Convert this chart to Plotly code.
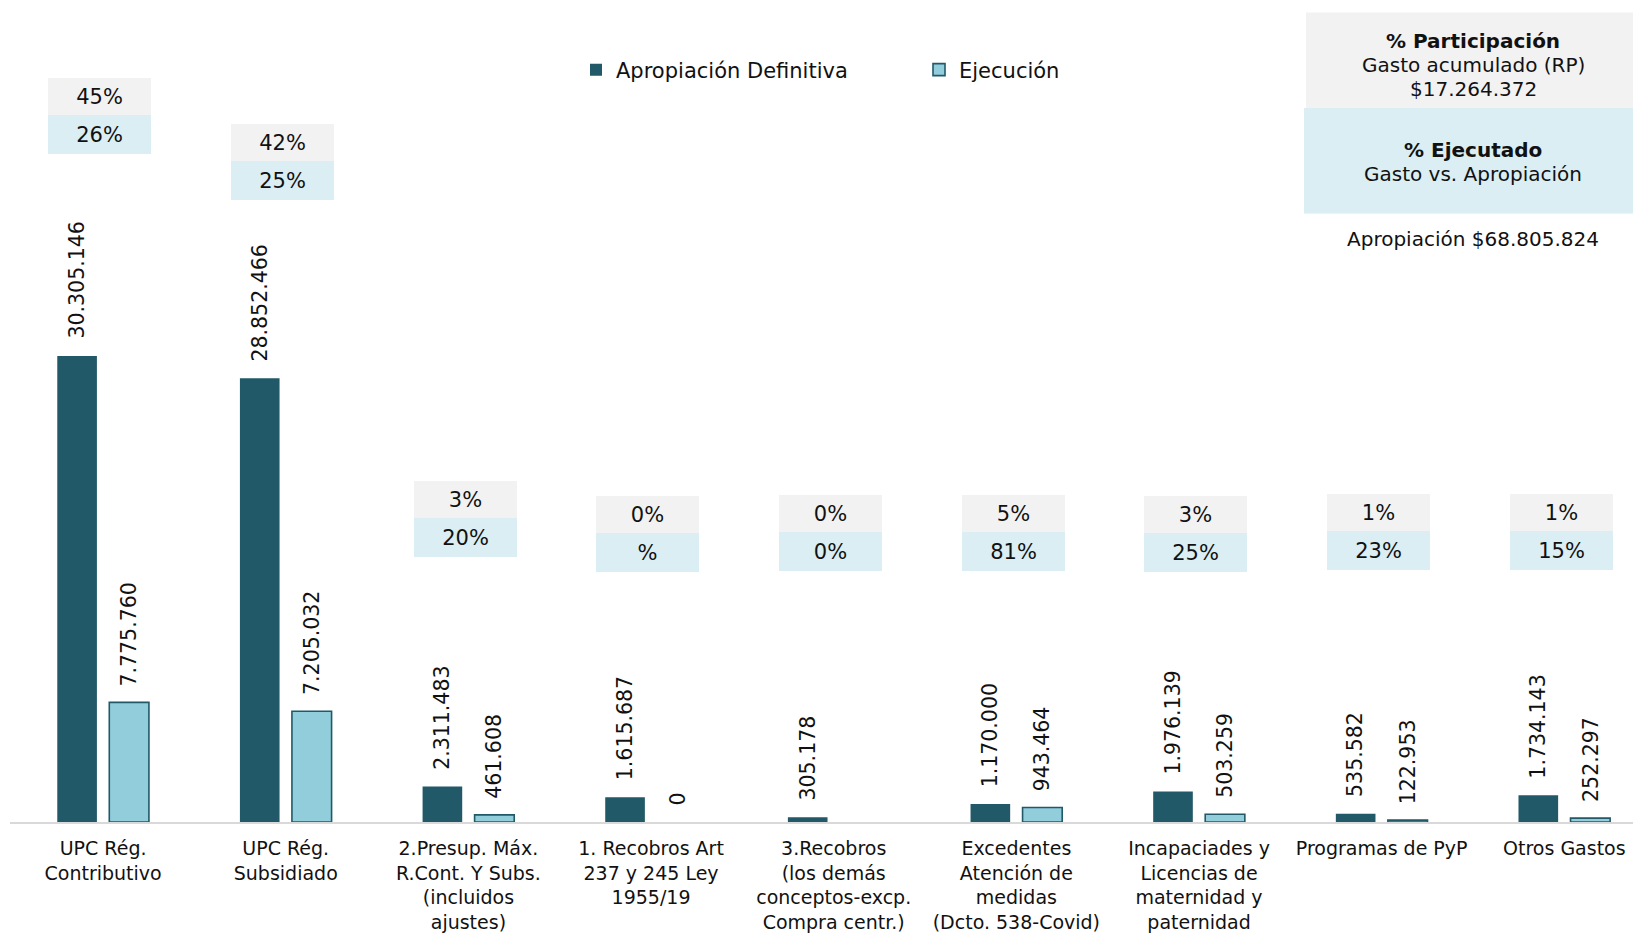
import plotly.graph_objects as go

categorias = [
    "UPC Rég.<br>Contributivo",
    "UPC Rég.<br>Subsidiado",
    "2.Presup. Máx.<br>R.Cont. Y Subs.<br>(incluidos<br>ajustes)",
    "1. Recobros Art<br>237 y 245 Ley<br>1955/19",
    "3.Recobros<br>(los demás<br>conceptos-excp.<br>Compra centr.)",
    "Excedentes<br>Atención de<br>medidas<br>(Dcto. 538-Covid)",
    "Incapaciades y<br>Licencias de<br>maternidad y<br>paternidad",
    "Programas de PyP",
    "Otros Gastos",
]
apropiacion = [30305146, 28852466, 2311483, 1615687, 305178, 1170000, 1976139, 535582, 1734143]
ejecucion = [7775760, 7205032, 461608, 0, None, 943464, 503259, 122953, 252297]
pct_participacion = ["45%", "42%", "3%", "0%", "0%", "5%", "3%", "1%", "1%"]
pct_ejecutado = ["26%", "25%", "20%", "%", "0%", "81%", "25%", "23%", "15%"]
nivel_cajas = [46.0e6, 42.95e6, 19.8e6, 18.8e6, 18.85e6, 18.85e6, 18.8e6, 18.9e6, 18.9e6]
total_gasto = "$17.264.372"
total_apropiacion = "$68.805.824"

DARK = "#215968"
LIGHT = "#92CDDC"
GRAY_BOX = "#F2F2F2"
BLUE_BOX = "#DAEEF3"
FONT = "DejaVu Sans"
TXT = "#111111"

def fmt(v):
    return f"{v:,}".replace(",", ".")

xs = list(range(len(categorias)))
BW = 0.217
OFF_D = -0.1424
OFF_L = 0.1424

fig = go.Figure()
fig.add_trace(go.Bar(
    x=xs, y=apropiacion, name="Apropiación Definitiva",
    width=BW, offset=OFF_D - BW / 2,
    marker=dict(color=DARK, line=dict(width=0)),
))
fig.add_trace(go.Bar(
    x=xs, y=ejecucion, name="Ejecución",
    width=BW, offset=OFF_L - BW / 2,
    marker=dict(color=LIGHT, line=dict(color=DARK,
                width=[1.6 if v else 0 for v in ejecucion])),
))

ann = []
for i in xs:
    ann.append(dict(x=i + OFF_D, y=apropiacion[i], xref="x", yref="y",
                    text=fmt(apropiacion[i]), textangle=-90, showarrow=False,
                    xanchor="center", yanchor="bottom", yshift=15,
                    font=dict(family=FONT, size=20.5, color=TXT)))
    if ejecucion[i] is not None:
        ann.append(dict(x=i + OFF_L, y=ejecucion[i], xref="x", yref="y",
                        text=fmt(ejecucion[i]), textangle=-90, showarrow=False,
                        xanchor="center", yanchor="bottom", yshift=14,
                        font=dict(family=FONT, size=20.5, color=TXT)))
    ann.append(dict(x=i - 0.017, y=nivel_cajas[i], xref="x", yref="y",
                    text=pct_participacion[i], showarrow=False,
                    xanchor="center", yanchor="bottom", width=103, height=37,
                    bgcolor=GRAY_BOX, borderpad=0, borderwidth=0,
                    font=dict(family=FONT, size=21, color=TXT)))
    ann.append(dict(x=i - 0.017, y=nivel_cajas[i], xref="x", yref="y",
                    text=pct_ejecutado[i], showarrow=False,
                    xanchor="center", yanchor="top", width=103, height=39,
                    bgcolor=BLUE_BOX, borderpad=0, borderwidth=0,
                    font=dict(family=FONT, size=21, color=TXT)))

# top-right explanatory box
def py(Y):
    return (822 - Y) / 822

def px(X):
    return (X - 10) / 1623

shapes = [
    dict(type="rect", xref="paper", yref="paper", x0=px(1306), x1=px(1640),
         y0=py(108), y1=py(12.5), fillcolor=GRAY_BOX, line=dict(width=0), layer="below"),
    dict(type="rect", xref="paper", yref="paper", x0=px(1304), x1=px(1640),
         y0=py(213.5), y1=py(108), fillcolor=BLUE_BOX, line=dict(width=0), layer="below"),
]
box_lines = [
    ("<b>% Participación</b>", 40.6),
    ("Gasto acumulado (RP)", 64.6),
    (total_gasto, 88.5),
    ("<b>% Ejecutado</b>", 150),
    ("Gasto vs. Apropiación", 174),
    ("Apropiación " + total_apropiacion, 238.5),
]
for t, Y in box_lines:
    ann.append(dict(x=px(1473), y=py(Y), xref="paper", yref="paper", text=t,
                    showarrow=False, xanchor="center", yanchor="middle",
                    font=dict(family=FONT, size=20, color=TXT)))

fig.update_layout(
    width=1633, height=933,
    margin=dict(l=10, r=0, t=0, b=111, autoexpand=False),
    paper_bgcolor="white", plot_bgcolor="white",
    barmode="overlay",
    showlegend=True,
    legend=dict(orientation="h", x=px(576), y=py(70), xanchor="left", yanchor="middle",
                font=dict(family=FONT, size=21, color=TXT), entrywidth=298,
                bgcolor="rgba(0,0,0,0)"),
    annotations=ann,
    shapes=shapes,
    xaxis=dict(range=[-0.5097, 8.376], tickmode="array", tickvals=xs, ticktext=categorias,
               showline=True, linecolor="#D9D9D9", linewidth=2, ticks="",
               showgrid=False, zeroline=False, tickangle=0, ticklabelstandoff=8,
               tickfont=dict(family=FONT, size=19, color=TXT)),
    yaxis=dict(range=[0, 53.45e6], visible=False, showgrid=False, zeroline=False),
    font=dict(family=FONT),
)

fig.write_html("out.html", config={"displayModeBar": False},
               post_script="document.body.style.margin='0px';document.body.style.padding='0px';")
